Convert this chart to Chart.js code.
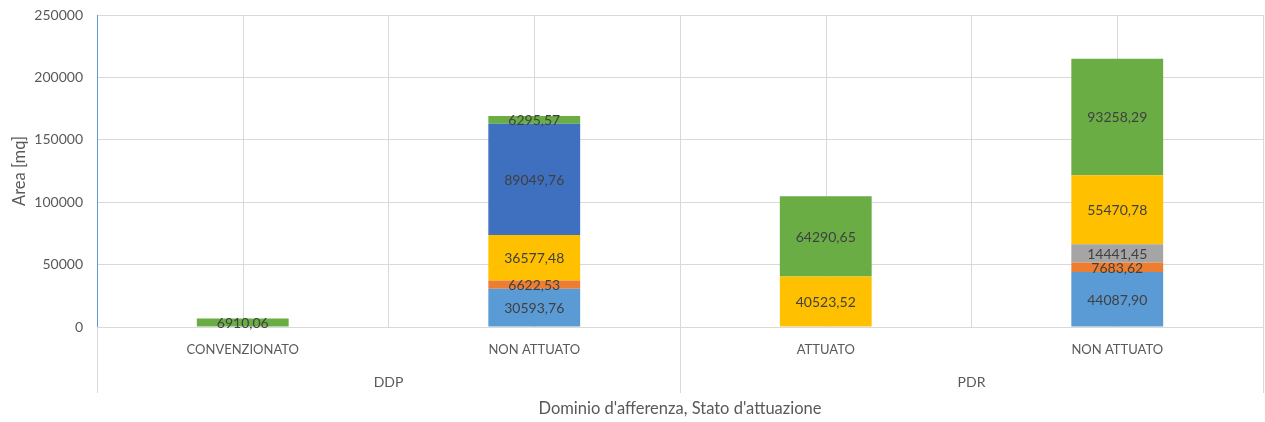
<!DOCTYPE html>
<html>
<head>
<meta charset="utf-8">
<script src="https://cdn.jsdelivr.net/npm/chart.js@4.4.1/dist/chart.umd.min.js"></script>
<style>
  html, body { margin: 0; padding: 0; background: #ffffff; }
  #wrap { width: 1265px; height: 422px; }
</style>
</head>
<body>
<div id="wrap"><canvas id="chart" width="1265" height="422"></canvas></div>
<script>
// Categories (stato d'attuazione) and their group (dominio d'afferenza)
const categories = ['CONVENZIONATO', 'NON ATTUATO', 'ATTUATO', 'NON ATTUATO'];
const groups = ['DDP', 'DDP', 'PDR', 'PDR'];
const yTicks = [0, 50000, 100000, 150000, 200000, 250000];

// Stacked series, bottom to top
const serieAzzurra = [null, 30593.76, null, 44087.90];
const serieArancio = [null, 6622.53, null, 7683.62];
const serieGrigia = [null, null, null, 14441.45];
const serieGialla = [null, 36577.48, 40523.52, 55470.78];
const serieBlu = [null, 89049.76, null, null];
const serieVerde = [6910.06, 6295.57, 64290.65, 93258.29];

const FONT = 'Lato, "Open Sans", sans-serif';
const TEXT = '#595959';
const GRID = '#d9d9d9';

function formatIt(v) {
    return v.toFixed(2).replace('.', ',');
}

// Extra drawing: center gridlines, group row, labels inside segments
const extrasPlugin = {
    id: 'extras',
    beforeDatasetsDraw(chart) {
        const { ctx, chartArea } = chart;
        const x = chart.scales.x;
        ctx.save();
        ctx.strokeStyle = GRID;
        ctx.lineWidth = 1;
        categories.forEach((c, i) => {
            const px = Math.round(x.getPixelForValue(i)) + 0.5;
            ctx.beginPath();
            ctx.moveTo(px, chartArea.top);
            ctx.lineTo(px, chartArea.bottom);
            ctx.stroke();
        });
        ctx.restore();
    },
    afterDatasetsDraw(chart) {
        const { ctx } = chart;
        ctx.save();
        ctx.font = '14px ' + FONT;
        ctx.fillStyle = '#404040';
        ctx.textAlign = 'center';
        ctx.textBaseline = 'middle';
        chart.data.datasets.forEach((ds, di) => {
            const meta = chart.getDatasetMeta(di);
            meta.data.forEach((bar, i) => {
                const v = ds.data[i];
                if (v == null) return;
                ctx.fillText(formatIt(v), bar.x, (bar.y + bar.base) / 2 + 1);
            });
        });
        ctx.restore();
    },
    afterDraw(chart) {
        const { ctx, chartArea } = chart;
        const x = chart.scales.x;
        const lowY = 393;
        ctx.save();
        // separators of the group row
        const seps = [chartArea.left];
        for (let i = 1; i < groups.length; i++) {
            if (groups[i] !== groups[i - 1]) {
                seps.push((x.getPixelForValue(i - 1) + x.getPixelForValue(i)) / 2);
            }
        }
        seps.push(chartArea.right);
        ctx.strokeStyle = GRID;
        ctx.lineWidth = 1;
        seps.forEach(s => {
            const px = Math.round(s) + 0.5;
            ctx.beginPath();
            ctx.moveTo(px, chartArea.bottom);
            ctx.lineTo(px, lowY);
            ctx.stroke();
        });
        // blue value axis line
        ctx.strokeStyle = '#5b9bd5';
        const lx = Math.round(chartArea.left) + 0.5;
        ctx.beginPath();
        ctx.moveTo(lx, chartArea.top);
        ctx.lineTo(lx, chartArea.bottom);
        ctx.stroke();
        // group labels
        ctx.font = '14px ' + FONT;
        ctx.fillStyle = TEXT;
        ctx.textAlign = 'center';
        ctx.textBaseline = 'middle';
        const names = [...new Set(groups)];
        names.forEach(g => {
            const idx = groups.map((v, i) => v === g ? i : -1).filter(i => i >= 0);
            const cx = idx.reduce((s, i) => s + x.getPixelForValue(i), 0) / idx.length;
            ctx.fillText(g, cx, 382);
        });
        ctx.restore();
    }
};

const mk = (label, data, color) => ({
    label: label,
    data: data,
    backgroundColor: color,
    borderWidth: 0,
    barPercentage: 1,
    categoryPercentage: 0.315
});

new Chart(document.getElementById('chart').getContext('2d'), {
    type: 'bar',
    data: {
        labels: categories,
        datasets: [
            mk('Serie 1', serieAzzurra, '#5b9bd5'),
            mk('Serie 2', serieArancio, '#ed7d31'),
            mk('Serie 3', serieGrigia, '#a5a5a5'),
            mk('Serie 4', serieGialla, '#ffc000'),
            mk('Serie 5', serieBlu, '#3f6fbf'),
            mk('Serie 6', serieVerde, '#6aad45')
        ]
    },
    options: {
        responsive: false,
        animation: false,
        layout: { padding: { top: 15, right: 2, left: 0, bottom: 0 } },
        plugins: {
            legend: { display: false },
            tooltip: { enabled: false }
        },
        scales: {
            x: {
                stacked: true,
                afterFit(s) { s.height = 95; },
                grid: { color: GRID, offset: true, drawTicks: false },
                border: { color: GRID },
                ticks: { color: TEXT, font: { family: FONT, size: 13 }, padding: 15, maxRotation: 0 },
                title: {
                    display: true,
                    text: "Dominio d'afferenza, Stato d'attuazione",
                    color: TEXT,
                    font: { family: FONT, size: 16.5 },
                    padding: { top: 0, bottom: 3 }
                }
            },
            y: {
                stacked: true,
                min: 0,
                max: yTicks[yTicks.length - 1],
                afterFit(s) {
                    s.width = 97;
                    // keep the tick padding from pushing the plot down
                    s.paddingTop = 8;
                    s.paddingBottom = 8;
                },
                afterBuildTicks(s) { s.ticks = yTicks.map(v => ({ value: v })); },
                grid: { color: GRID, drawTicks: false },
                border: { color: '#5b9bd5' },
                ticks: {
                    color: TEXT,
                    font: { family: FONT, size: 14 },
                    padding: 14,
                    callback: v => String(v)
                },
                title: {
                    display: true,
                    text: 'Area [mq]',
                    color: TEXT,
                    font: { family: FONT, size: 16.5 },
                    padding: { top: 10, bottom: 0 }
                }
            }
        }
    },
    plugins: [extrasPlugin]
});
</script>
</body>
</html>
